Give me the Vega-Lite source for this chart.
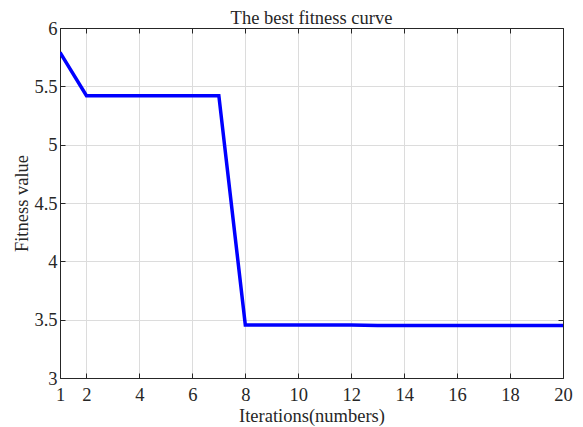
{
  "$schema": "https://vega.github.io/schema/vega-lite/v6.json",
  "width": 503,
  "height": 350,
  "autosize": {"type": "none"},
  "padding": {"left": 60, "top": 28, "right": 20, "bottom": 49},
  "background": "white",
  "config": {
    "font": "Liberation Serif",
    "view": {"stroke": "#262626", "strokeWidth": 1},
    "axis": {
      "labelFont": "Liberation Serif",
      "titleFont": "Liberation Serif",
      "labelFontSize": 18.5,
      "titleFontSize": 18.5,
      "titleFontWeight": "normal",
      "labelColor": "#262626",
      "titleColor": "#262626",
      "domainColor": "#262626",
      "tickColor": "#262626",
      "tickWidth": 1,
      "gridColor": "#dcdcdc",
      "gridWidth": 1
    }
  },
  "title": {
    "text": "The best fitness curve",
    "font": "Liberation Serif",
    "fontSize": 18.5,
    "fontWeight": "normal",
    "color": "#262626",
    "offset": -8
  },
  "data": {
    "values": [
      {"iter": 1, "fitness": 5.79},
      {"iter": 2, "fitness": 5.42},
      {"iter": 3, "fitness": 5.42},
      {"iter": 4, "fitness": 5.42},
      {"iter": 5, "fitness": 5.42},
      {"iter": 6, "fitness": 5.42},
      {"iter": 7, "fitness": 5.42},
      {"iter": 8, "fitness": 3.455},
      {"iter": 9, "fitness": 3.455},
      {"iter": 10, "fitness": 3.455},
      {"iter": 11, "fitness": 3.455},
      {"iter": 12, "fitness": 3.455},
      {"iter": 13, "fitness": 3.45},
      {"iter": 14, "fitness": 3.45},
      {"iter": 15, "fitness": 3.45},
      {"iter": 16, "fitness": 3.45},
      {"iter": 17, "fitness": 3.45},
      {"iter": 18, "fitness": 3.45},
      {"iter": 19, "fitness": 3.45},
      {"iter": 20, "fitness": 3.45}
    ]
  },
  "resolve": {"axis": {"x": "independent", "y": "independent"}},
  "layer": [
    {
      "mark": {"type": "line", "color": "#0000ff", "strokeWidth": 3.5, "clip": true},
      "encoding": {
        "x": {
          "field": "iter",
          "type": "quantitative",
          "scale": {"domain": [1, 20], "nice": false, "zero": false},
          "axis": {
            "title": "Iterations(numbers)",
            "values": [1, 2, 4, 6, 8, 10, 12, 14, 16, 18, 20],
            "tickSize": -5,
            "labelPadding": 12,
            "titlePadding": 3,
            "labelFlush": false,
            "grid": true
          }
        },
        "y": {
          "field": "fitness",
          "type": "quantitative",
          "scale": {"domain": [3, 6], "nice": false, "zero": false},
          "axis": {
            "title": "Fitness value",
            "values": [3, 3.5, 4, 4.5, 5, 5.5, 6],
            "format": "~g",
            "tickSize": -5,
            "labelPadding": 8,
            "titlePadding": 2,
            "labelFlush": false,
            "grid": true
          }
        }
      }
    },
    {
      "mark": {"type": "line", "opacity": 0, "clip": true},
      "encoding": {
        "x": {
          "field": "iter",
          "type": "quantitative",
          "axis": {
            "orient": "top",
            "title": null,
            "labels": false,
            "grid": false,
            "values": [1, 2, 4, 6, 8, 10, 12, 14, 16, 18, 20],
            "tickSize": -5
          }
        },
        "y": {
          "field": "fitness",
          "type": "quantitative",
          "axis": {
            "orient": "right",
            "title": null,
            "labels": false,
            "grid": false,
            "values": [3, 3.5, 4, 4.5, 5, 5.5, 6],
            "tickSize": -5
          }
        }
      }
    }
  ]
}
